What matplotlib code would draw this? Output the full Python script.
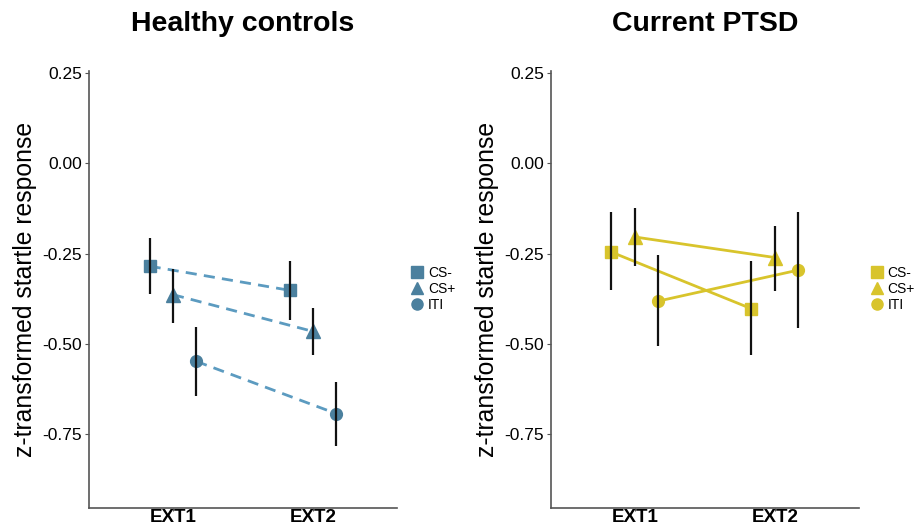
import matplotlib
matplotlib.use("Agg")
import matplotlib.pyplot as plt
from matplotlib.lines import Line2D
import numpy as np

plt.rcParams["font.family"] = ["Liberation Sans", "DejaVu Sans"]

# Phases and conditions
phases = ["EXT1", "EXT2"]
conditions = ["CS-", "CS+", "ITI"]
markers = ["s", "^", "o"]

# Healthy controls: mean and error bar bounds (rows = condition, cols = phase)
hc_mean = [[-0.285, -0.352], [-0.364, -0.466], [-0.549, -0.694]]
hc_low = [[-0.363, -0.433], [-0.443, -0.530], [-0.646, -0.785]]
hc_high = [[-0.208, -0.271], [-0.292, -0.400], [-0.454, -0.607]]

# Current PTSD
pt_mean = [[-0.246, -0.403], [-0.204, -0.261], [-0.382, -0.296]]
pt_low = [[-0.352, -0.532], [-0.285, -0.354], [-0.507, -0.457]]
pt_high = [[-0.136, -0.271], [-0.125, -0.173], [-0.255, -0.136]]

yticks = [0.25, 0.00, -0.25, -0.50, -0.75]

blue_marker = "#4b809e"
blue_line = "#5c9bc0"
yellow = "#d8c42c"

fig = plt.figure(figsize=(9.21, 5.28), dpi=100)
ax_hc = fig.add_axes([0.0966, 0.0384, 0.3344, 0.8262])
ax_pt = fig.add_axes([0.598, 0.0384, 0.3344, 0.8262])

dodge = [-1 / 6, 0, 1 / 6]


def draw_panel(ax, mean, low, high, mcolor, lcolor, ls, title, leg_x):
    x = np.arange(1, len(phases) + 1)
    for i, cond in enumerate(conditions):
        xs = x + dodge[i]
        m = np.array(mean[i])
        lo = np.array(low[i])
        hi = np.array(high[i])
        ax.plot(xs, m, color=lcolor, lw=2.0, ls=ls, dashes=(4, 2.6) if ls == "--" else (None, None),
                zorder=2)
        ax.plot(xs, m, ls="none", marker=markers[i], color=mcolor,
                markersize=9.5 if markers[i] == "^" else 8.5, zorder=3)
        ax.vlines(xs, lo, hi, color="#111111", lw=1.6, zorder=4)

    ax.set_xlim(0.4, 2.6)
    ax.set_ylim(-0.955, 0.255)
    ax.set_xticks(x)
    ax.set_xticklabels(phases, fontsize=13.5, fontweight="bold")
    ax.set_yticks(yticks)
    ax.set_yticklabels([f"{v:.2f}" for v in yticks], fontsize=12.5)
    ax.set_ylabel("z-transformed startle response", fontsize=17.8, labelpad=4)
    for s in ["top", "right"]:
        ax.spines[s].set_visible(False)
    for s in ["left", "bottom"]:
        ax.spines[s].set_color("#555555")
        ax.spines[s].set_linewidth(1.2)
    ax.tick_params(axis="both", length=3, width=0.8, color="#555555", pad=2)
    ax.tick_params(axis="x", length=2, pad=-1)
    ax.set_title(title, fontsize=20.5, fontweight="bold", pad=29)

    handles = [Line2D([], [], ls="none", marker=mk, color=mcolor,
                      markersize=9 if mk == "^" else 8) for mk in markers]
    ax.legend(handles, conditions, loc="center left", frameon=False,
              bbox_to_anchor=(leg_x, 0.453), bbox_transform=fig.transFigure,
              fontsize=10, handlelength=0.9, handletextpad=0.35,
              labelspacing=0.15, borderpad=0, borderaxespad=0)


draw_panel(ax_hc, hc_mean, hc_low, hc_high, blue_marker, blue_line, "--",
           "Healthy controls", 0.446)
draw_panel(ax_pt, pt_mean, pt_low, pt_high, yellow, yellow, "-",
           "Current PTSD", 0.945)

fig.savefig("out.png", dpi=100)
